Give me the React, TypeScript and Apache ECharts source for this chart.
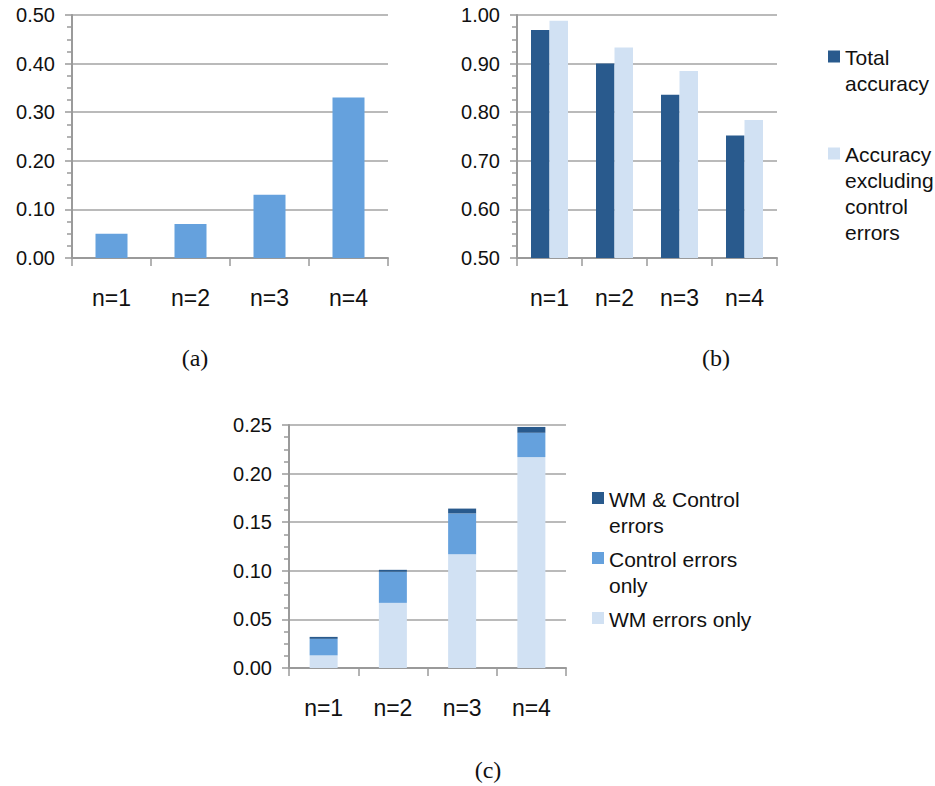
import React, { useEffect, useRef } from "react";
import * as echarts from "echarts";

const categories = ["n=1", "n=2", "n=3", "n=4"];
// (a) error rate
const errorRate = [0.05, 0.07, 0.13, 0.33];
// (b) accuracies
const totalAccuracy = [0.969, 0.9, 0.836, 0.752];
const accuracyExclControl = [0.988, 0.933, 0.885, 0.784];
// (c) stacked error breakdown
const wmErrorsOnly = [0.013, 0.067, 0.117, 0.217];
const controlErrorsOnly = [0.017, 0.032, 0.042, 0.025];
const wmAndControlErrors = [0.002, 0.002, 0.005, 0.006];

const seriesNamesB = ["Total accuracy", "Accuracy excluding control errors"];
const legendLinesB = [["Total", "accuracy"], ["Accuracy", "excluding", "control", "errors"]];
const seriesNamesC = ["WM & Control errors", "Control errors only", "WM errors only"];
const legendLinesC = [["WM & Control", "errors"], ["Control errors", "only"], ["WM errors only"]];
const captions = ["(a)", "(b)", "(c)"];

const DARK = "#295A8D";
const MED = "#65A1DD";
const LIGHT = "#D1E1F3";
const AXIS = "#9A9A9A";
const GRID = "#A3A3A3";
const SANS = "'Liberation Sans', Arial, Helvetica, sans-serif";
const SERIF = "'Liberation Serif', 'Times New Roman', serif";

function yAxis(gridIndex: number, min: number, max: number, interval: number) {
  return {
    type: "value",
    gridIndex,
    min,
    max,
    interval,
    axisLine: { show: true, lineStyle: { color: AXIS, width: 2 } },
    axisTick: { show: true, length: 7, lineStyle: { color: AXIS, width: 1.5 } },
    minorTick: { show: true, splitNumber: 4, length: 5, lineStyle: { color: AXIS, width: 1.5 } },
    splitLine: { show: true, lineStyle: { color: GRID, width: 1.5 } },
    axisLabel: {
      margin: 17,
      fontSize: 20,
      color: "#111",
      fontFamily: SANS,
      formatter: (v: number) => v.toFixed(2),
    },
  };
}

function xAxis(gridIndex: number) {
  return {
    type: "category",
    gridIndex,
    data: categories,
    axisLine: { show: true, lineStyle: { color: AXIS, width: 2 } },
    axisTick: { show: true, length: 8, lineStyle: { color: AXIS, width: 1.5 } },
    axisLabel: { margin: 28, fontSize: 23, color: "#111", fontFamily: SANS },
  };
}

function legendItem(x: number, cy: number, color: string, lines: string[]) {
  return [
    { type: "rect", shape: { x, y: cy - 6, width: 12, height: 12 }, style: { fill: color } },
    {
      type: "text",
      x: x + 17,
      y: cy - 12,
      style: {
        text: lines.join("\n"),
        fontSize: 21,
        lineHeight: 26,
        fontFamily: SANS,
        fill: "#111",
        verticalAlign: "top",
        align: "left",
      },
    },
  ];
}

export default function App() {
  const ref = useRef<HTMLDivElement>(null);

  useEffect(() => {
    if (!ref.current) return;
    const chart = echarts.init(ref.current, null, { renderer: "svg" });
    const captionStyle = { fontSize: 24, fontFamily: SERIF, fill: "#111", align: "center", verticalAlign: "middle" };
    const option: any = {
      animation: false,
      backgroundColor: "#ffffff",
      grid: [
        { left: 72, top: 15, width: 316, height: 243, outerBoundsMode: "none" },
        { left: 517, top: 15, width: 260, height: 243, outerBoundsMode: "none" },
        { left: 289, top: 425, width: 277, height: 243, outerBoundsMode: "none" },
      ],
      xAxis: [xAxis(0), xAxis(1), xAxis(2)],
      yAxis: [yAxis(0, 0, 0.5, 0.1), yAxis(1, 0.5, 1.0, 0.1), yAxis(2, 0, 0.25, 0.05)],
      series: [
        {
          name: "Error rate",
          type: "bar",
          xAxisIndex: 0,
          yAxisIndex: 0,
          data: errorRate,
          barWidth: 32,
          itemStyle: { color: MED },
        },
        {
          name: seriesNamesB[0],
          type: "bar",
          xAxisIndex: 1,
          yAxisIndex: 1,
          data: totalAccuracy,
          barWidth: 18.5,
          barGap: "0%",
          itemStyle: { color: DARK },
        },
        {
          name: seriesNamesB[1],
          type: "bar",
          xAxisIndex: 1,
          yAxisIndex: 1,
          data: accuracyExclControl,
          barWidth: 18.5,
          barGap: "0%",
          itemStyle: { color: LIGHT },
        },
        {
          name: seriesNamesC[2],
          type: "bar",
          stack: "c",
          xAxisIndex: 2,
          yAxisIndex: 2,
          data: wmErrorsOnly,
          barWidth: 28,
          itemStyle: { color: LIGHT },
        },
        {
          name: seriesNamesC[1],
          type: "bar",
          stack: "c",
          xAxisIndex: 2,
          yAxisIndex: 2,
          data: controlErrorsOnly,
          barWidth: 28,
          itemStyle: { color: MED },
        },
        {
          name: seriesNamesC[0],
          type: "bar",
          stack: "c",
          xAxisIndex: 2,
          yAxisIndex: 2,
          data: wmAndControlErrors,
          barWidth: 28,
          itemStyle: { color: DARK },
        },
      ],
      graphic: [
        ...legendItem(828, 56.5, DARK, legendLinesB[0]),
        ...legendItem(828, 153.5, LIGHT, legendLinesB[1]),
        ...legendItem(592, 498, DARK, legendLinesC[0]),
        ...legendItem(592, 558, MED, legendLinesC[1]),
        ...legendItem(592, 618, LIGHT, legendLinesC[2]),
        { type: "text", x: 195, y: 358, style: { text: captions[0], ...captionStyle } },
        { type: "text", x: 716, y: 358, style: { text: captions[1], ...captionStyle } },
        { type: "text", x: 488, y: 770, style: { text: captions[2], ...captionStyle } },
      ],
    };
    chart.setOption(option);
    return () => chart.dispose();
  }, []);

  return (
    <div
      ref={ref}
      style={{ position: "fixed", left: 0, top: 0, width: 935, height: 786, background: "#fff" }}
    />
  );
}
